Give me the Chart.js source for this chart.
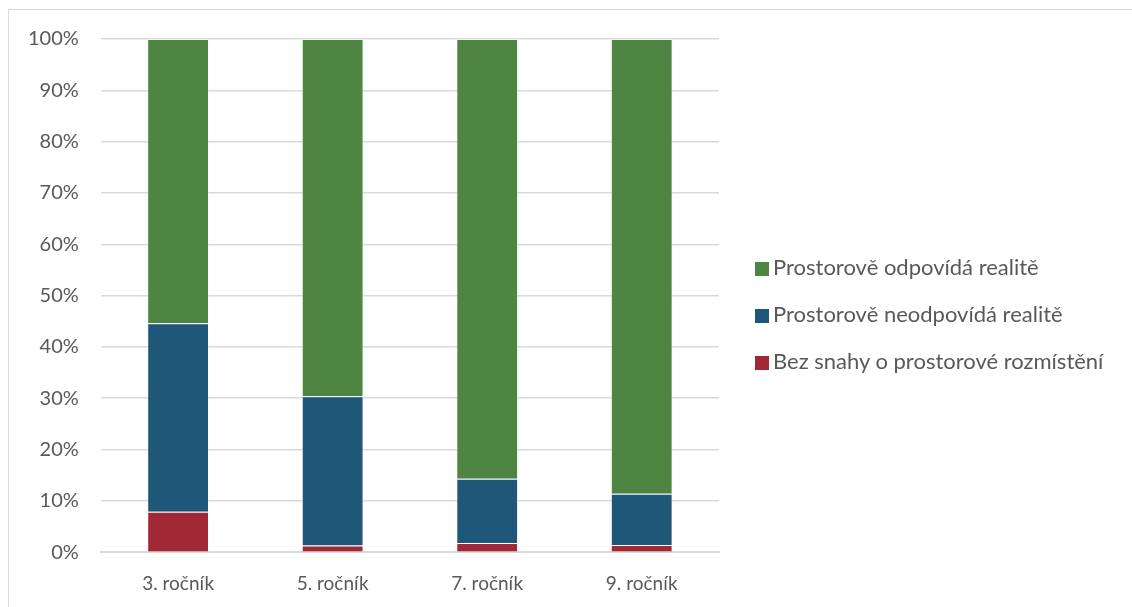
<!DOCTYPE html>
<html>
<head>
<meta charset="utf-8">
<script src="https://cdn.jsdelivr.net/npm/chart.js@4/dist/chart.umd.min.js"></script>
<style>
  html, body { margin: 0; padding: 0; background: #fff; overflow: hidden; }
  #frame {
    position: absolute; left: 8px; top: 9px; width: 1140px; height: 620px;
    border: 1px solid #d9d9d9; box-sizing: border-box;
  }
  #wrap { position: absolute; left: 0; top: 0; width: 1132px; height: 607px; }
  #legend {
    position: absolute; left: 755px; top: 253px;
    font-family: Lato, "Open Sans", sans-serif; font-size: 22px; color: #595959;
  }
  #legend .item { height: 47px; line-height: 28px; white-space: nowrap; }
  #legend .box {
    display: inline-block; width: 14px; height: 14px; margin-right: 4px;
    vertical-align: -1px;
  }
</style>
</head>
<body>
<div id="frame"></div>
<div id="wrap"><canvas id="chart" width="1132" height="607"></canvas></div>
<div id="legend"></div>
<script>
const categories = ['3. ročník', '5. ročník', '7. ročník', '9. ročník'];
const seriesNames = [
  'Bez snahy o prostorové rozmístění',
  'Prostorově neodpovídá realitě',
  'Prostorově odpovídá realitě'
];
// shares in percent, bottom to top
const noAttempt = [7.9, 1.3, 1.8, 1.4];
const notMatching = [36.7, 29.1, 12.5, 10.0];
const matching = [55.4, 69.6, 85.7, 88.6];
const yTicks = [0, 10, 20, 30, 40, 50, 60, 70, 80, 90, 100];

const colors = ['#a12936', '#1f5778', '#4e8542'];
const values = [noAttempt, notMatching, matching];

const textColor = '#595959';
const family = 'Lato, "Open Sans", sans-serif';

const chart = new Chart(document.getElementById('chart').getContext('2d'), {
  type: 'bar',
  data: {
    labels: categories,
    datasets: values.map(function (v, i) {
      return {
        label: seriesNames[i],
        data: v,
        backgroundColor: colors[i],
        borderColor: 'rgba(255,255,255,0.35)',
        borderWidth: 1,
        categoryPercentage: 1,
        barPercentage: 0.4
      };
    })
  },
  options: {
    responsive: false,
    animation: false,
    layout: { padding: { top: 39, left: 6, right: 413, bottom: 0 } },
    scales: {
      x: {
        stacked: true,
        grid: { display: false },
        border: { display: true, color: '#d9d9d9', width: 2 },
        ticks: { color: textColor, font: { family: family, size: 19 }, padding: 12 }
      },
      y: {
        stacked: true,
        min: 0,
        max: 100,
        afterBuildTicks: function (axis) {
          axis.ticks = yTicks.map(function (t) { return { value: t }; });
        },
        grid: { color: '#d9d9d9', lineWidth: 1.5, drawTicks: false },
        border: { display: false },
        ticks: {
          color: textColor,
          font: { family: family, size: 20 },
          padding: 22,
          callback: function (v) { return v + '%'; }
        }
      }
    },
    plugins: {
      tooltip: { enabled: false },
      legend: { display: false }
    }
  }
});

// legend, top series first
const legend = document.getElementById('legend');
chart.data.datasets.slice().reverse().forEach(function (ds) {
  const item = document.createElement('div');
  item.className = 'item';
  const box = document.createElement('span');
  box.className = 'box';
  box.style.background = ds.backgroundColor;
  item.appendChild(box);
  item.appendChild(document.createTextNode(ds.label));
  legend.appendChild(item);
});
</script>
</body>
</html>
